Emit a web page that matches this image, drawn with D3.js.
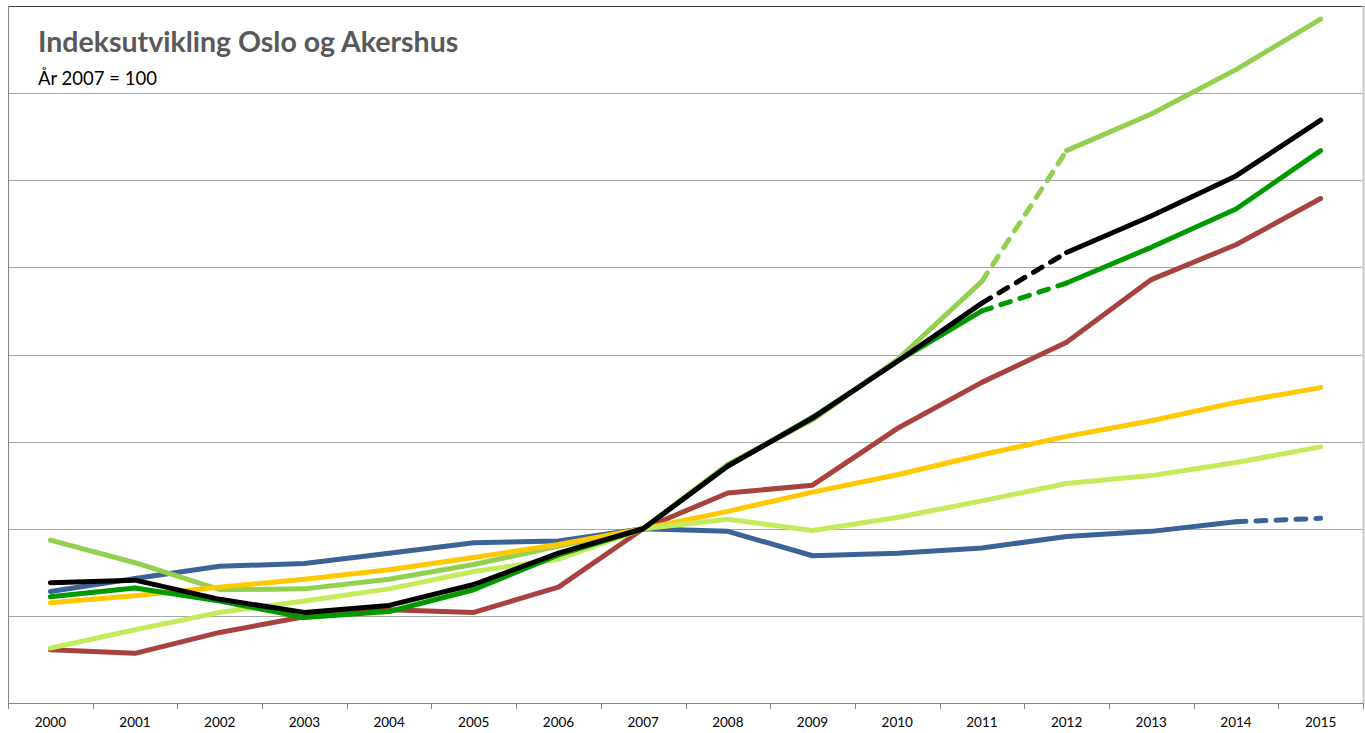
<!DOCTYPE html>
<html>
<head>
<meta charset="utf-8">
<script src="https://cdn.jsdelivr.net/npm/d3@7"></script>
<style>
    body { margin: 0; background: #fff; }
    svg { display: block; }
</style>
</head>
<body>
<div id="chart"></div>
<script>
// years on the x axis
const years = ["2000", "2001", "2002", "2003", "2004", "2005", "2006", "2007",
    "2008", "2009", "2010", "2011", "2012", "2013", "2014", "2015"]

// index values, 2007 = 100
const blueValues = [92.8, 94.3, 95.7, 96.0, 97.2, 98.4, 98.6, 100, 99.7, 96.9, 97.2, 97.8, 99.1, 99.7, 100.8, 101.2]
const redValues = [86.1, 85.7, 88.1, 89.9, 90.7, 90.4, 93.3, 100, 104.1, 105.0, 111.5, 116.8, 121.4, 128.6, 132.6, 137.9]
const lightGreenValues = [98.7, 96.1, 93.0, 93.1, 94.2, 95.9, 98.0, 100, 107.4, 112.5, 119.4, 128.4, 143.4, 147.6, 152.7, 158.5]
const yellowValues = [91.5, 92.3, 93.3, 94.2, 95.3, 96.7, 98.2, 100, 102.0, 104.2, 106.2, 108.5, 110.6, 112.4, 114.5, 116.2]
const limeValues = [86.3, 88.4, 90.4, 91.7, 93.1, 95.1, 96.5, 100, 101.1, 99.8, 101.3, 103.2, 105.2, 106.1, 107.6, 109.4]
const darkGreenValues = [92.2, 93.2, 91.7, 89.8, 90.5, 93.0, 97.0, 100, 107.2, 112.8, 119.2, 125.0, 128.2, 132.3, 136.7, 143.4]
const blackValues = [93.8, 94.1, 91.9, 90.4, 91.2, 93.6, 97.2, 100, 107.2, 112.7, 119.2, 125.9, 131.7, 135.9, 140.5, 146.9]

// which year a dashed segment starts at (segment goes to the next year)
const blueDashed = ["2014"]
const lightGreenDashed = ["2011"]
const darkGreenDashed = ["2011"]
const blackDashed = ["2011"]

const series = [
    { values: blueValues, color: "#3A6397", dashed: blueDashed },
    { values: redValues, color: "#A8423F", dashed: [] },
    { values: lightGreenValues, color: "#92D050", dashed: lightGreenDashed },
    { values: yellowValues, color: "#FFC800", dashed: [] },
    { values: limeValues, color: "#C3EB5B", dashed: [] },
    { values: darkGreenValues, color: "#009A00", dashed: darkGreenDashed },
    { values: blackValues, color: "#000000", dashed: blackDashed }
]

const W = 1365, H = 733
const plotLeft = 8, plotRight = 1363, plotTop = 6, plotBottom = 703

const svg = d3.select("#chart").append("svg")
    .attr("width", W)
    .attr("height", H)

const x = d3.scalePoint()
    .domain(years)
    .range([plotLeft, plotRight])
    .padding(0.5)

const y = d3.scaleLinear()
    .domain([80, 160])
    .range([plotBottom, plotTop])

// gridlines
svg.append("g")
    .selectAll("line")
    .data([90, 100, 110, 120, 130, 140, 150])
    .enter()
    .append("line")
    .attr("x1", plotLeft).attr("x2", plotRight)
    .attr("y1", d => Math.round(y(d)) + 0.5).attr("y2", d => Math.round(y(d)) + 0.5)
    .attr("stroke", "#a6a6a6")
    .attr("stroke-width", 1)

// frame: top border, right border, left axis line
svg.append("line")
    .attr("x1", plotLeft).attr("x2", W).attr("y1", plotTop + 0.5).attr("y2", plotTop + 0.5)
    .attr("stroke", "#404040")
svg.append("line")
    .attr("x1", plotRight + 0.5).attr("x2", plotRight + 0.5).attr("y1", plotTop).attr("y2", plotBottom)
    .attr("stroke", "#c8c8c8").attr("stroke-width", 2)
svg.append("line")
    .attr("x1", plotLeft + 0.5).attr("x2", plotLeft + 0.5).attr("y1", plotTop).attr("y2", plotBottom)
    .attr("stroke", "#868686")

// x axis with ticks between categories
const step = x.step()
const xAxis = svg.append("g")
    .attr("transform", `translate(0, ${plotBottom})`)
xAxis.append("line")
    .attr("x1", plotLeft).attr("x2", plotRight)
    .attr("y1", 0.5).attr("y2", 0.5)
    .attr("stroke", "#868686")
xAxis.selectAll(".tick")
    .data(d3.range(years.length + 1))
    .enter()
    .append("line")
    .attr("x1", i => Math.round(plotLeft + i * step) + 0.5)
    .attr("x2", i => Math.round(plotLeft + i * step) + 0.5)
    .attr("y1", 0).attr("y2", 6)
    .attr("stroke", "#868686")
xAxis.selectAll("text")
    .data(years)
    .enter()
    .append("text")
    .attr("x", d => x(d))
    .attr("y", 24)
    .attr("text-anchor", "middle")
    .attr("font-family", "Lato, 'Open Sans', sans-serif")
    .attr("font-size", 13.5)
    .attr("fill", "#000")
    .text(d => d)

// lines
const lineG = svg.append("g")
const gen = d3.line()
series.forEach(s => {
    const pts = s.values.map((v, i) => [x(years[i]), y(v)])
    // split into solid runs and dashed segments
    let run = [pts[0]]
    const solidRuns = []
    const dashSegs = []
    for (let i = 1; i < pts.length; i++) {
        if (s.dashed.includes(years[i - 1])) {
            if (run.length > 1) solidRuns.push(run)
            dashSegs.push([pts[i - 1], pts[i]])
            run = [pts[i]]
        } else {
            run.push(pts[i])
        }
    }
    if (run.length > 1) solidRuns.push(run)

    solidRuns.forEach(r => {
        lineG.append("path")
            .attr("d", gen(r))
            .attr("fill", "none")
            .attr("stroke", s.color)
            .attr("stroke-width", 5)
            .attr("stroke-linejoin", "round")
            .attr("stroke-linecap", "round")
    })
    dashSegs.forEach(r => {
        lineG.append("path")
            .attr("d", gen(r))
            .attr("fill", "none")
            .attr("stroke", s.color)
            .attr("stroke-width", 5)
            .attr("stroke-linecap", "round")
            .attr("stroke-dasharray", "10,10")
    })
})

// title
svg.append("text")
    .attr("x", 38)
    .attr("y", 52)
    .attr("font-family", "Lato, 'Open Sans', sans-serif")
    .attr("font-weight", "bold")
    .attr("font-size", 28.5)
    .attr("fill", "#595959")
    .text("Indeksutvikling Oslo og Akershus")

svg.append("text")
    .attr("x", 38)
    .attr("y", 85)
    .attr("font-family", "Lato, 'Open Sans', sans-serif")
    .attr("font-size", 18.5)
    .attr("fill", "#000")
    .text("År 2007 = 100")
</script>
</body>
</html>
